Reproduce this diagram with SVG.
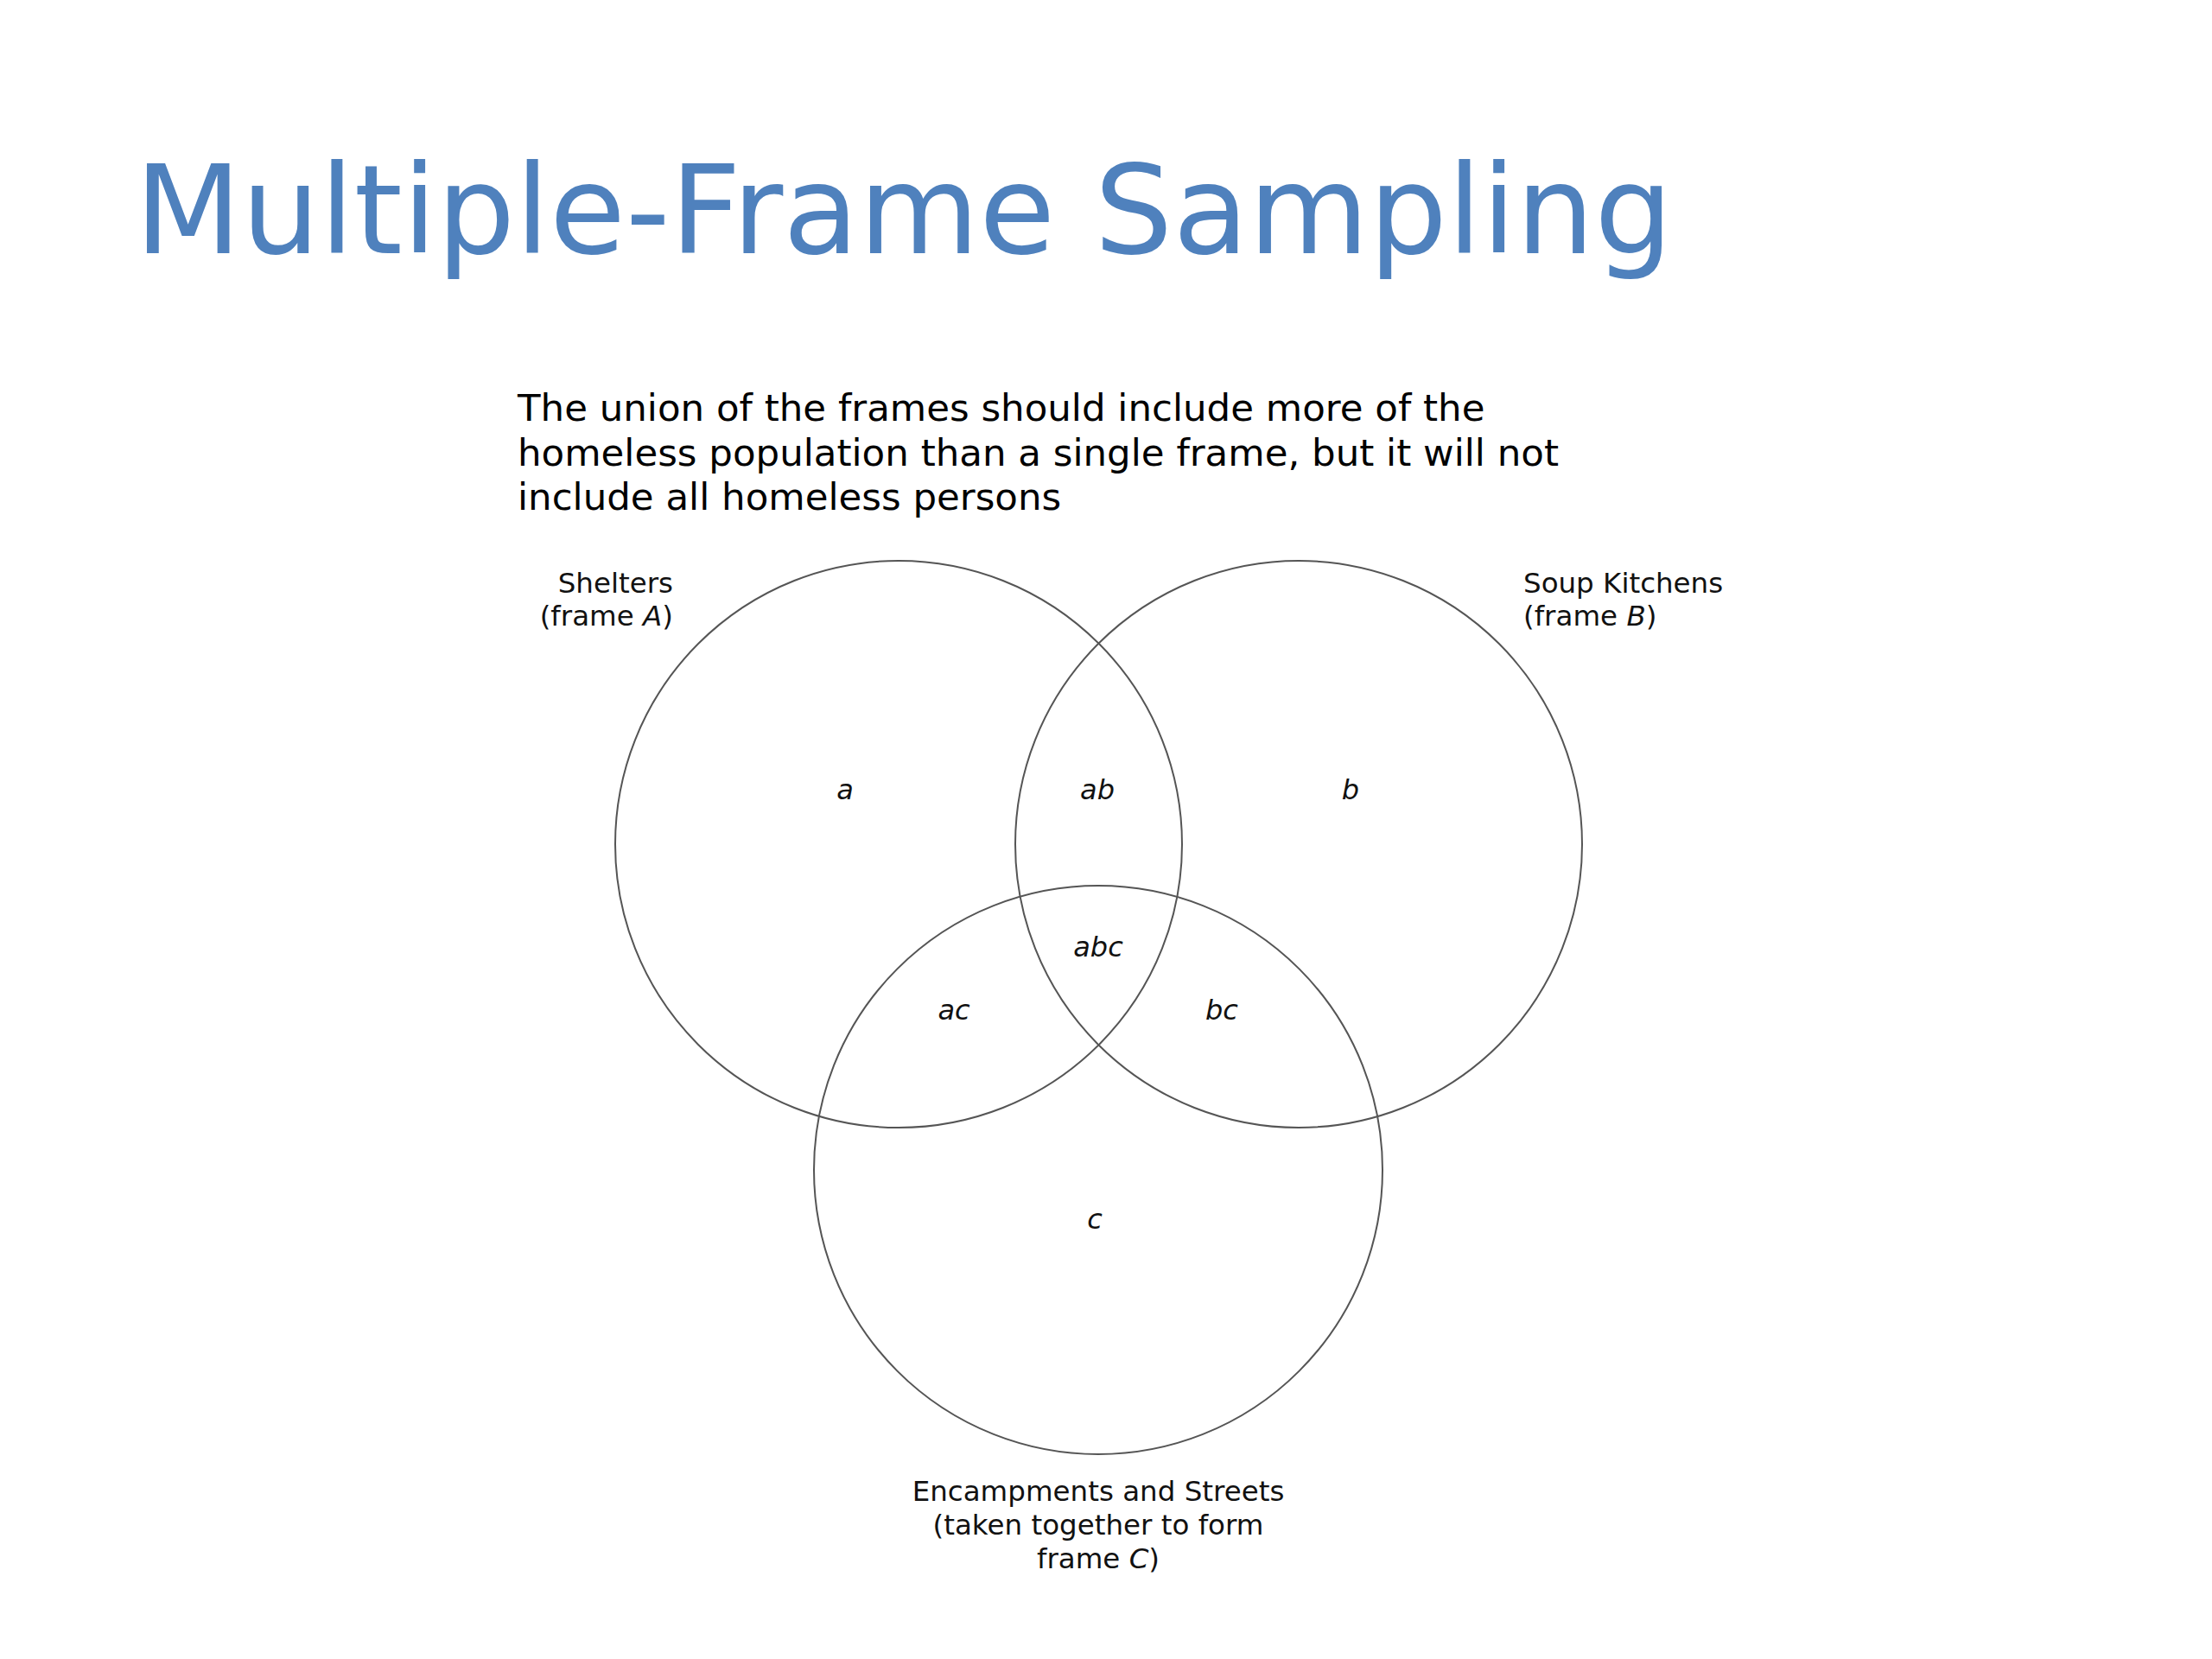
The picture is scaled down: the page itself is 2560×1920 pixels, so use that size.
<svg xmlns="http://www.w3.org/2000/svg" width="2560" height="1920" viewBox="0 0 2560 1920">
<style>
.title{font-family:"DejaVu Sans","Liberation Sans",sans-serif;font-size:143px;fill:#4F81BD}
.para{font-family:"DejaVu Sans","Liberation Sans",sans-serif;font-size:43.5px;fill:#000}
.lbl{font-family:"DejaVu Sans","Liberation Sans",sans-serif;font-size:32.5px;fill:#111}
.reg{font-family:"DejaVu Sans","Liberation Sans",sans-serif;font-size:32px;font-style:italic;fill:#111;text-anchor:middle}
.circ{fill:none;stroke:#555;stroke-width:2}
</style>
<rect width="2560" height="1920" fill="#fff"/>
<text class="title" x="156" y="293">Multiple-Frame Sampling</text>
<g id="intro">
<text class="para" x="599" y="487">The union of the frames should include more of the</text>
<text class="para" x="599" y="539">homeless population than a single frame, but it will not</text>
<text class="para" x="599" y="590">include all homeless persons</text>
</g>
<g id="frameA">
<circle class="circ" cx="1040" cy="977" r="328"/>
<text class="lbl" x="779" y="686" text-anchor="end">Shelters</text>
<text class="lbl" x="779" y="724" text-anchor="end">(frame <tspan font-style="italic">A</tspan>)</text>
</g>
<g id="frameB">
<circle class="circ" cx="1503" cy="977" r="328"/>
<text class="lbl" x="1763" y="686">Soup Kitchens</text>
<text class="lbl" x="1763" y="724">(frame <tspan font-style="italic">B</tspan>)</text>
</g>
<g id="frameC">
<circle class="circ" cx="1271" cy="1354" r="329"/>
<text class="lbl" x="1271" y="1737" text-anchor="middle">Encampments and Streets</text>
<text class="lbl" x="1271" y="1776" text-anchor="middle">(taken together to form</text>
<text class="lbl" x="1271" y="1815" text-anchor="middle">frame <tspan font-style="italic">C</tspan>)</text>
</g>
<g id="regions">
<text class="reg" x="978" y="925">a</text>
<text class="reg" x="1270" y="925">ab</text>
<text class="reg" x="1563" y="925">b</text>
<text class="reg" x="1271" y="1107">abc</text>
<text class="reg" x="1104" y="1180">ac</text>
<text class="reg" x="1414" y="1180">bc</text>
<text class="reg" x="1267" y="1422">c</text>
</g>
<g id="connectors"></g>
</svg>
